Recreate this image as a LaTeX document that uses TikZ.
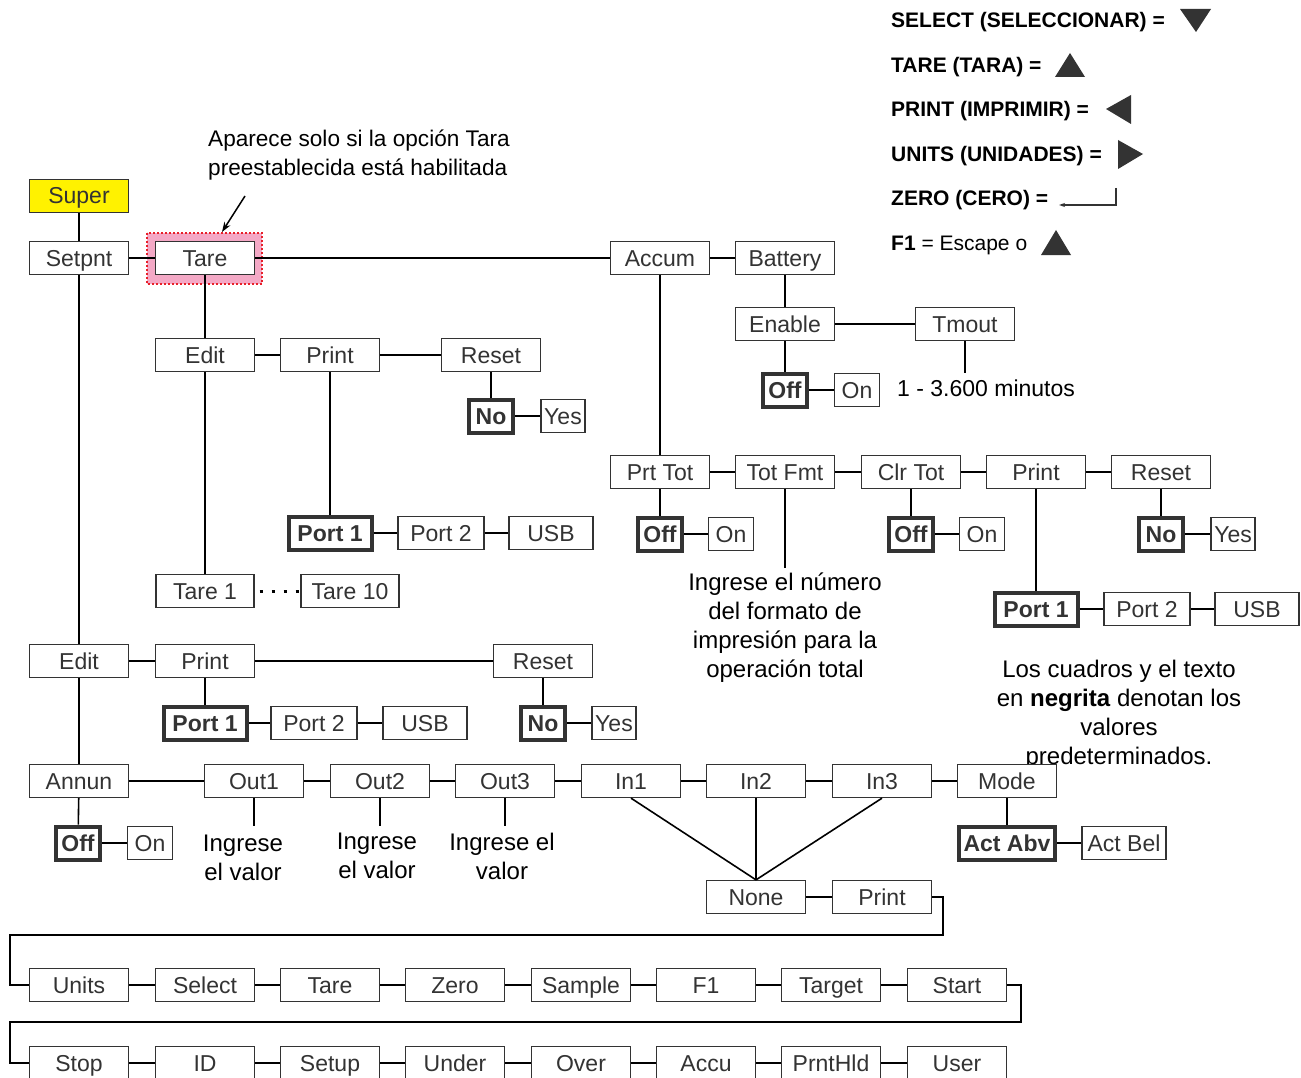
\documentclass[tikz,border=0pt]{standalone}
\usepackage{fontspec}
\setmainfont{Liberation Sans}
\usetikzlibrary{arrows.meta}
\definecolor{ink}{HTML}{333333}
\definecolor{superyellow}{HTML}{FFF200}
\definecolor{hlpink}{HTML}{F4A9C6}
\definecolor{hlred}{HTML}{E8202A}
\begin{document}
\begin{tikzpicture}[x=1pt,y=-1pt,
  every node/.style={inner sep=0pt, text=ink, font=\fontsize{23}{26}\selectfont},
  bx/.style={draw=ink, line width=1.3pt, fill=white, minimum width=99pt, minimum height=33pt, text height=19pt, text depth=3pt},
  sb/.style={bx, minimum width=#1},
  bd/.style={draw=ink, line width=4pt, fill=white, minimum height=33pt, minimum width=#1, text height=19pt, text depth=3pt, font=\fontsize{23}{26}\selectfont\bfseries},
  ln/.style={draw=black, line width=1.6pt},
  note/.style={align=center, text=black, font=\fontsize{24}{29}\selectfont},
  legend/.style={anchor=west, text=black, font=\fontsize{21}{24}\selectfont\bfseries},
  tri/.style={fill=ink, draw=none},
]
\useasboundingbox (0,0) rectangle (1301,1078);
\clip (0,0) rectangle (1301,1078);
\fill[white] (0,0) rectangle (1301,1078);

% ---------- legend ----------
\node[legend] (l1) at (891,22) {SELECT (SELECCIONAR) =};
\fill[tri] (1180,9) -- (1211,9) -- (1196,32) -- cycle;
\node[legend] (l2) at (891,67) {TARE (TARA) =};
\fill[tri] (1055,77) -- (1085,77) -- (1070,53) -- cycle;
\node[legend] (l3) at (891,111) {PRINT (IMPRIMIR) =};
\fill[tri] (1131,95) -- (1131,124) -- (1106,109) -- cycle;
\node[legend] (l4) at (891,156) {UNITS (UNIDADES) =};
\fill[tri] (1118,140) -- (1118,169) -- (1143,154) -- cycle;
\node[legend] (l5) at (891,200) {ZERO (CERO) =};
\draw[ink, line width=1.3pt, -{Stealth[length=6pt,width=4pt]}] (1116,188) -- (1116,205) -- (1059,205);
\node[legend, font=\fontsize{21}{24}\selectfont] (l6) at (891,245) {\textbf{F1} = Escape o};
\fill[tri] (1041,255) -- (1071,255) -- (1056,230) -- cycle;

% ---------- annotation ----------
\node[anchor=west, align=left, text=black, font=\fontsize{22.6}{29}\selectfont] (apnote) at (208,155) {Aparece solo si la opción Tara\\preestablecida está habilitada};
\coordinate (arrA) at (245,196);
\coordinate (arrB) at (222,232);
\draw[black, line width=1.5pt, -{Stealth[length=10pt,width=7pt]}] (arrA) -- (arrB);

% ---------- highlight of Tare ----------
\draw[hlred, line width=2.5pt, dash pattern=on 2pt off 2pt, fill=hlpink] (147,233) rectangle (262,284);

% ---------- top rows ----------
\node[bx, fill=superyellow] (super) at (79,196) {Super};
\node[bx] (setpnt) at (79,258) {Setpnt};
\node[bx] (tare) at (205,258) {Tare};
\node[bx] (accum) at (660,258) {Accum};
\node[bx] (battery) at (785,258) {Battery};

\node[bx] (edit1) at (205,355) {Edit};
\node[bx] (print1) at (330,355) {Print};
\node[bx] (reset1) at (491,355) {Reset};
\node[bd=44pt] (no1) at (491,416) {No};
\node[sb=44pt] (yes1) at (563,416) {Yes};
\node[bd=83pt] (porta1) at (330,533) {Port 1};
\node[sb=86pt] (porta2) at (441,533) {Port 2};
\node[sb=84pt] (usba) at (551,533) {USB};
\node[sb=98pt] (tareone) at (205,591) {Tare 1};
\node[sb=98pt] (tareten) at (350,591) {Tare 10};

\node[bx] (enable) at (785,324) {Enable};
\node[bx] (tmout) at (965,324) {Tmout};
\node[bd=44pt] (offb) at (785,390) {Off};
\node[sb=45pt] (onb) at (857,390) {On};
\node[anchor=west, text=black, font=\fontsize{23}{26}\selectfont] (minutos) at (897,388) {1 - 3.600 minutos};

\node[bx] (prttot) at (660,472) {Prt Tot};
\node[bx] (totfmt) at (785,472) {Tot Fmt};
\node[bx] (clrtot) at (911,472) {Clr Tot};
\node[bx] (print2) at (1036,472) {Print};
\node[bx] (reset2) at (1161,472) {Reset};
\node[bd=44pt] (offp) at (660,534) {Off};
\node[sb=45pt] (onp) at (731,534) {On};
\node[bd=44pt] (offc) at (911,534) {Off};
\node[sb=45pt] (onc) at (982,534) {On};
\node[bd=44pt] (no2) at (1161,534) {No};
\node[sb=44pt] (yes2) at (1233,534) {Yes};
\node[bd=83pt] (portb1) at (1036,609) {Port 1};
\node[sb=86pt] (portb2) at (1147,609) {Port 2};
\node[sb=84pt] (usbb) at (1257,609) {USB};

\node[note] (totnote) at (785,628) {Ingrese el número\\del formato de\\impresión para la\\operación total};
\node[note] (boldnote) at (1119,715) {Los cuadros y el texto\\en \textbf{negrita} denotan los\\valores\\predeterminados.};

% ---------- second Edit row ----------
\node[bx] (edit2) at (79,661) {Edit};
\node[bx] (print3) at (205,661) {Print};
\node[bx] (reset3) at (543,661) {Reset};
\node[bd=83pt] (portc1) at (205,723) {Port 1};
\node[sb=86pt] (portc2) at (314,723) {Port 2};
\node[sb=84pt] (usbc) at (425,723) {USB};
\node[bd=44pt] (no3) at (543,723) {No};
\node[sb=44pt] (yes3) at (614,723) {Yes};

% ---------- Annun row ----------
\node[bx] (annun) at (79,781) {Annun};
\node[bx] (out1) at (254,781) {Out1};
\node[bx] (out2) at (380,781) {Out2};
\node[bx] (out3) at (505,781) {Out3};
\node[bx] (in1) at (631,781) {In1};
\node[bx] (in2) at (756,781) {In2};
\node[bx] (in3) at (882,781) {In3};
\node[bx] (mode) at (1007,781) {Mode};
\node[bd=44pt] (offa) at (78,843) {Off};
\node[sb=45pt] (ona) at (150,843) {On};
\node[bd=96pt] (actabv) at (1007,843) {Act Abv};
\node[sb=84pt] (actbel) at (1124,843) {Act Bel};
\node[bx] (none) at (756,897) {None};
\node[bx] (print4) at (882,897) {Print};

\node[note] (o1note) at (243,858) {Ingrese\\el valor};
\node[note] (o2note) at (377,856) {Ingrese\\el valor};
\node[note] (o3note) at (502,856) {Ingrese el\\valor};

% ---------- bottom rows ----------
\node[bx] (units) at (79,985) {Units};
\node[bx] (select) at (205,985) {Select};
\node[bx] (taref) at (330,985) {Tare};
\node[bx] (zero) at (455,985) {Zero};
\node[bx] (sample) at (581,985) {Sample};
\node[bx] (fone) at (706,985) {F1};
\node[bx] (target) at (831,985) {Target};
\node[bx] (start) at (957,985) {Start};

\node[bx] (stop) at (79,1063) {Stop};
\node[bx] (idn) at (205,1063) {ID};
\node[bx] (setup) at (330,1063) {Setup};
\node[bx] (under) at (455,1063) {Under};
\node[bx] (over) at (581,1063) {Over};
\node[bx] (accu) at (706,1063) {Accu};
\node[bx] (prnthld) at (831,1063) {PrntHld};
\node[bx] (user) at (957,1063) {User};

% ---------- connectors ----------
\draw[ln] (super) -- (setpnt);
\draw[ln] (setpnt) -- (tare);
\draw[ln] (tare) -- (accum);
\draw[ln] (accum) -- (battery);
\draw[ln] (setpnt) -- (edit2);
\draw[ln] (edit2) -- (annun);
\draw[ln] (tare) -- (edit1);
\draw[ln] (edit1) -- (tareone);
\draw[ln] (edit1) -- (print1);
\draw[ln] (print1) -- (reset1);
\draw[ln] (print1) -- (porta1);
\draw[ln] (reset1) -- (no1);
\draw[ln] (no1) -- (yes1);
\draw[ln] (porta1) -- (porta2);
\draw[ln] (porta2) -- (usba);
\draw[black, line width=3pt, dash pattern=on 3pt off 9pt, dash phase=-5pt] (tareone) -- (tareten);

\draw[ln] (battery) -- (enable);
\draw[ln] (enable) -- (tmout);
\draw[ln] (enable) -- (offb);
\draw[ln] (offb) -- (onb);
\coordinate (tmend) at (965,373);
\draw[ln] (tmout) -- (tmend);

\draw[ln] (accum) -- (prttot);
\draw[ln] (prttot) -- (totfmt);
\draw[ln] (totfmt) -- (clrtot);
\draw[ln] (clrtot) -- (print2);
\draw[ln] (print2) -- (reset2);
\draw[ln] (prttot) -- (offp);
\draw[ln] (offp) -- (onp);
\draw[ln] (clrtot) -- (offc);
\draw[ln] (offc) -- (onc);
\draw[ln] (reset2) -- (no2);
\draw[ln] (no2) -- (yes2);
\draw[ln] (print2) -- (portb1);
\draw[ln] (portb1) -- (portb2);
\draw[ln] (portb2) -- (usbb);
\coordinate (tfend) at (785,568);
\draw[ln] (totfmt) -- (tfend);

\draw[ln] (edit2) -- (print3);
\draw[ln] (print3) -- (reset3);
\draw[ln] (print3) -- (portc1);
\draw[ln] (portc1) -- (portc2);
\draw[ln] (portc2) -- (usbc);
\draw[ln] (reset3) -- (no3);
\draw[ln] (no3) -- (yes3);

\draw[ln] (annun) -- (out1);
\draw[ln] (out1) -- (out2);
\draw[ln] (out2) -- (out3);
\draw[ln] (out3) -- (in1);
\draw[ln] (in1) -- (in2);
\draw[ln] (in2) -- (in3);
\draw[ln] (in3) -- (mode);
\draw[ln] (annun) -- (offa);
\draw[ln] (offa) -- (ona);
\draw[ln] (mode) -- (actabv);
\draw[ln] (actabv) -- (actbel);
\coordinate (o1end) at (254,826);
\coordinate (o2end) at (380,826);
\coordinate (o3end) at (505,826);
\draw[ln] (out1) -- (o1end);
\draw[ln] (out2) -- (o2end);
\draw[ln] (out3) -- (o3end);
\draw[ln] (in1.south) -- (none.north);
\draw[ln] (in2) -- (none);
\draw[ln] (in3.south) -- (none.north);
\draw[ln] (none) -- (print4);

\coordinate (wa) at (943,935);
\coordinate (wb) at (10,985);
\draw[ln] (print4.east) -| (wa) -| (wb) -- (units.west);
\draw[ln] (units) -- (select);
\draw[ln] (select) -- (taref);
\draw[ln] (taref) -- (zero);
\draw[ln] (zero) -- (sample);
\draw[ln] (sample) -- (fone);
\draw[ln] (fone) -- (target);
\draw[ln] (target) -- (start);
\coordinate (wc) at (1021,1022);
\coordinate (wd) at (10,1063);
\draw[ln] (start.east) -| (wc) -| (wd) -- (stop.west);
\draw[ln] (stop) -- (idn);
\draw[ln] (idn) -- (setup);
\draw[ln] (setup) -- (under);
\draw[ln] (under) -- (over);
\draw[ln] (over) -- (accu);
\draw[ln] (accu) -- (prnthld);
\draw[ln] (prnthld) -- (user);
\end{tikzpicture}
\end{document}
